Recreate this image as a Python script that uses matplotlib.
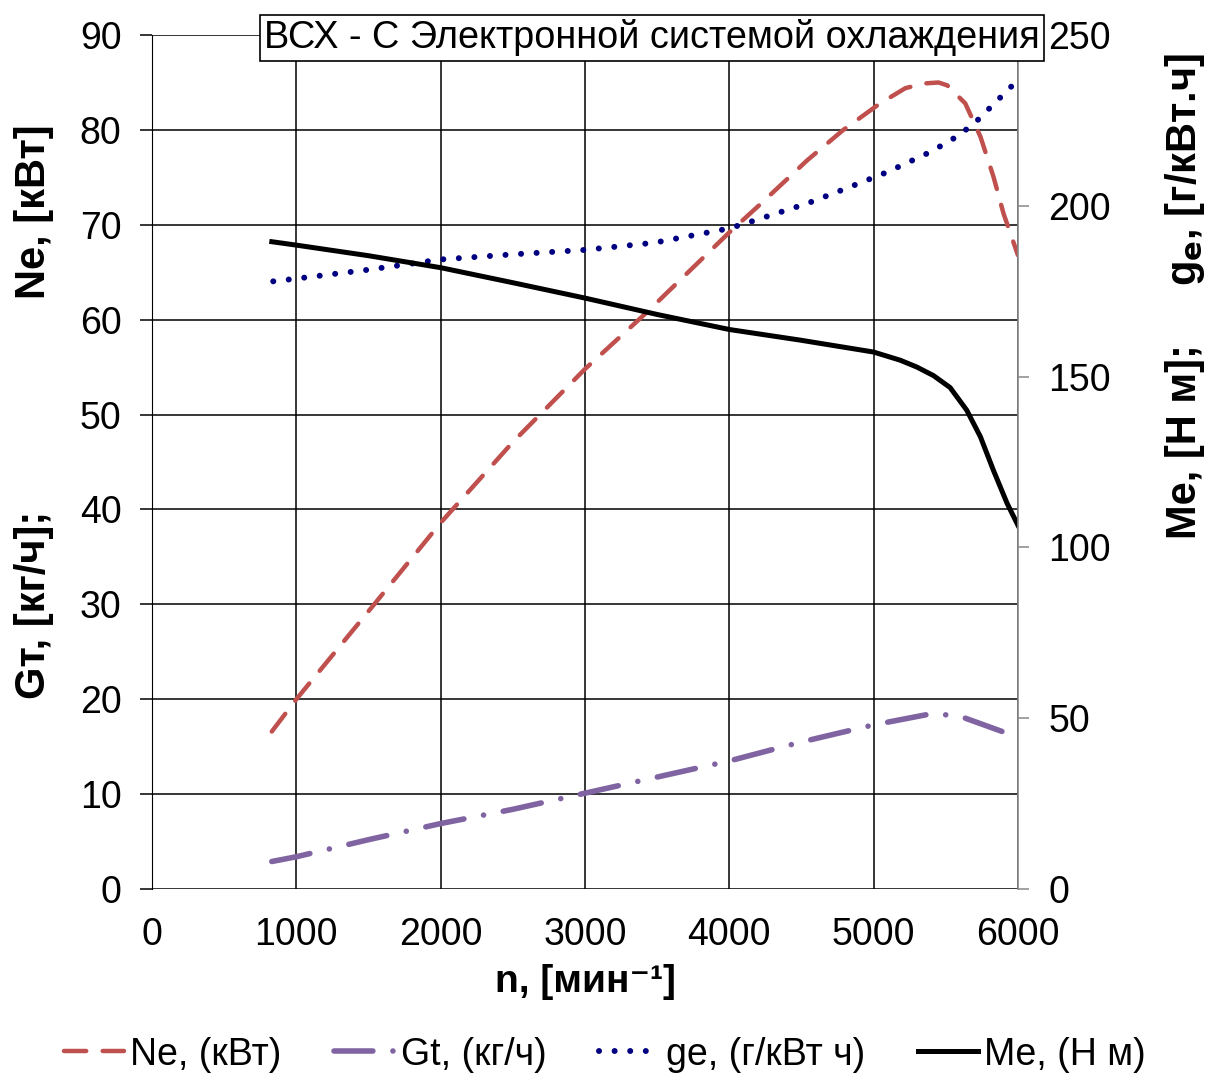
import matplotlib
matplotlib.use('Agg')
from matplotlib import pyplot as plt
from matplotlib.lines import Line2D

plt.rcParams['font.family'] = ['Liberation Sans', 'DejaVu Sans']

# Ne, kW (left axis)
ne_n = [830, 1000, 1550, 2000, 2500, 3000, 3430, 4000, 4210, 4540, 4790, 5045,
        5220, 5350, 5450, 5510, 5635, 5740, 5830, 5900, 6000]
ne_v = [16.6, 20.0, 30.2, 38.6, 47.1, 54.8, 60.8, 69.2, 72.1, 76.8, 80.0, 82.8,
        84.4, 84.9, 85.0, 84.7, 82.8, 79.3, 75.1, 71.2, 66.8]

# Gt, kg/h (left axis)
gt_n = [830, 1000, 1500, 2000, 2500, 3000, 3500, 4000, 4500, 5000, 5410, 5600, 6000]
gt_v = [2.9, 3.4, 5.2, 6.9, 8.4, 10.1, 11.8, 13.5, 15.5, 17.3, 18.5, 18.2, 16.0]

# ge, g/kWh (right axis)
ge_n = [840, 1000, 1500, 2000, 2500, 3000, 3480, 4000, 4160, 4540, 4810, 5090,
        5360, 5530, 5690, 5830, 5970, 6000]
ge_v = [177.9, 178.7, 181.3, 184.3, 185.8, 187.1, 189.2, 193.4, 195.5, 200.7, 205.1,
        209.8, 215.1, 219.0, 223.8, 229.7, 235.6, 236.6]

# Me, N m (right axis)
me_n = [830, 1000, 1500, 2000, 2500, 3000, 3500, 4000, 4490, 5000, 5185, 5300,
        5415, 5530, 5645, 5740, 5830, 5925, 6000]
me_v = [189.5, 188.5, 185.4, 181.9, 177.5, 173.0, 168.2, 163.8, 160.7, 157.2, 154.8,
        152.8, 150.3, 146.8, 140.2, 132.4, 122.6, 112.9, 106.5]

x_ticks = [0, 1000, 2000, 3000, 4000, 5000, 6000]
left_ticks = [0, 10, 20, 30, 40, 50, 60, 70, 80, 90]
right_ticks = [0, 50, 100, 150, 200, 250]

red = '#C0504D'
purple = '#8064A2'
navy = '#000080'

ne_style = dict(color=red, linewidth=3.2, dashes=(5, 3.7), dash_capstyle='round')
gt_style = dict(color=purple, linewidth=4.0, dashes=(7, 3.6, 0.01, 3.6),
                dash_capstyle='round')
ge_style = dict(color=navy, linewidth=4.3, dashes=(0.01, 2.6), dash_capstyle='round')
me_style = dict(color='black', linewidth=3.6)

fig = plt.figure(figsize=(12.22, 10.75), dpi=100)
ax = fig.add_axes([0.1244, 0.173, 0.7086, 0.7944])
ax2 = ax.twinx()

ax.set_xlim(0, 6000)
ax.set_ylim(0, 90)
ax2.set_ylim(0, 250)
ax.set_xticks(x_ticks)
ax.set_yticks(left_ticks)
ax2.set_yticks(right_ticks)

ax.grid(True, color='black', linewidth=1.1)
for s in ['top', 'bottom']:
    ax.spines[s].set_visible(False)
    ax2.spines[s].set_visible(False)
ax.spines['right'].set_visible(False)
ax.spines['left'].set_color('black')
ax2.spines['left'].set_visible(False)
ax2.spines['right'].set_color('#888888')
ax2.spines['right'].set_linewidth(1.2)

ax.tick_params(axis='y', labelsize=27, length=9, width=1.1, direction='out', pad=13)
ax.tick_params(axis='x', labelsize=27, length=0, pad=20)
ax2.tick_params(axis='y', labelsize=27, length=8, width=1.1, color='#888888',
                direction='out', pad=14)

ax.plot(ne_n, ne_v, **ne_style)
ax.plot(gt_n, gt_v, **gt_style)
ax2.plot(ge_n, ge_v, **ge_style)
ax2.plot(me_n, me_v, **me_style)

ax.set_xlabel('n, [мин⁻¹]', fontsize=28, fontweight='bold', labelpad=8)

fig.text(0.028, 0.437, 'Gт, [кг/ч];', rotation=90, fontsize=30, fontweight='bold',
         ha='center', va='center')
fig.text(0.028, 0.803, 'Ne, [кВт]', rotation=90, fontsize=30, fontweight='bold',
         ha='center', va='center')
fig.text(0.970, 0.589, 'Me, [Н м];', rotation=90, fontsize=30, fontweight='bold',
         ha='center', va='center')
fig.text(0.970, 0.842, 'g$_\\mathbf{е}$, [г/кВт.ч]', rotation=90, fontsize=30,
         fontweight='bold', ha='center', va='center')

fig.text(0.851, 0.965, 'ВСХ - С Электронной системой охлаждения', fontsize=27.3,
         ha='right', va='center',
         bbox=dict(boxstyle='square,pad=0.12', facecolor='white', edgecolor='black',
                   linewidth=1.2))

handles = [Line2D([], [], **ne_style), Line2D([], [], **gt_style),
           Line2D([], [], **ge_style), Line2D([], [], **me_style)]
labels = ['Ne, (кВт)', 'Gt, (кг/ч)', 'ge, (г/кВт ч)', 'Me, (Н м)']
fig.legend(handles, labels, loc='center', bbox_to_anchor=(0.495, 0.019), ncol=4,
           frameon=False, fontsize=27, handlelength=1.6, handletextpad=0.18,
           columnspacing=1.4)

fig.savefig('out.png', dpi=100)
